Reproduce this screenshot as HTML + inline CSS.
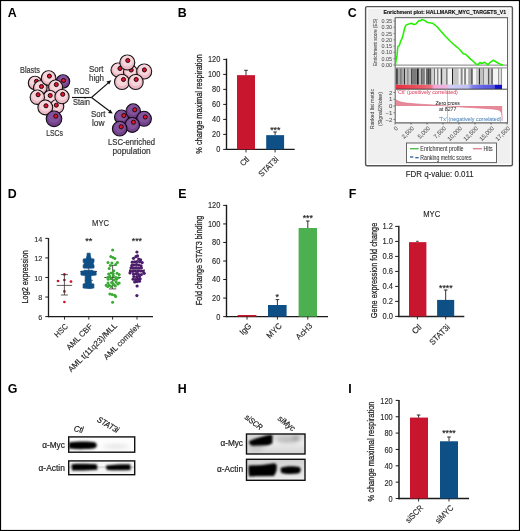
<!DOCTYPE html>
<html><head><meta charset="utf-8"><title>Figure</title>
<style>html,body{margin:0;padding:0;background:#fff;}body{width:520px;height:531px;overflow:hidden;}svg{display:block;will-change:transform;}</style>
</head><body>
<svg width="520" height="531" viewBox="0 0 520 531" font-family='"Liberation Sans", sans-serif'>
<defs>
<filter id="b1" x="-50%" y="-50%" width="200%" height="200%"><feGaussianBlur stdDeviation="0.9"/></filter>
<filter id="b2" x="-50%" y="-50%" width="200%" height="200%"><feGaussianBlur stdDeviation="2"/></filter>
<filter id="bh" x="-5%" y="-5%" width="110%" height="110%"><feGaussianBlur stdDeviation="0.45 0"/></filter>
<filter id="b05" x="-50%" y="-50%" width="200%" height="200%"><feGaussianBlur stdDeviation="0.45"/></filter>
<linearGradient id="gsea" x1="0" x2="1" y1="0" y2="0">
<stop offset="0" stop-color="#e83040"/>
<stop offset="0.25" stop-color="#ec5a66"/>
<stop offset="0.33" stop-color="#ee7080"/>
<stop offset="0.36" stop-color="#f2a8d8"/>
<stop offset="0.49" stop-color="#f0b8e4"/>
<stop offset="0.5" stop-color="#d0d0f8"/>
<stop offset="0.68" stop-color="#c0c0f4"/>
<stop offset="0.72" stop-color="#8080ec"/>
<stop offset="0.83" stop-color="#6060e4"/>
<stop offset="0.93" stop-color="#5050e0"/>
<stop offset="0.935" stop-color="#1010c8"/>
<stop offset="1" stop-color="#1010c8"/>
</linearGradient>
<linearGradient id="hbg" x1="0" x2="0" y1="0" y2="1"><stop offset="0" stop-color="#d8d8d8"/><stop offset="0.45" stop-color="#ececec"/><stop offset="1" stop-color="#d4d4d4"/></linearGradient>
<linearGradient id="hbg2" x1="0" x2="0" y1="0" y2="1"><stop offset="0" stop-color="#d0d0d0"/><stop offset="0.5" stop-color="#e0e0e0"/><stop offset="1" stop-color="#ececec"/></linearGradient>
</defs>
<rect x="0.00" y="0.00" width="520.00" height="531.00" fill="#ffffff" />
<text x="7.80" y="17.00" font-size="12.4" font-weight="bold" fill="#000">A</text>
<text x="177.80" y="17.00" font-size="12.4" font-weight="bold" fill="#000">B</text>
<text x="347.80" y="16.80" font-size="12.4" font-weight="bold" fill="#000">C</text>
<text x="7.80" y="197.60" font-size="12.4" font-weight="bold" fill="#000">D</text>
<text x="178.20" y="197.60" font-size="12.4" font-weight="bold" fill="#000">E</text>
<text x="348.80" y="197.60" font-size="12.4" font-weight="bold" fill="#000">F</text>
<text x="7.80" y="393.00" font-size="12.4" font-weight="bold" fill="#000">G</text>
<text x="177.80" y="393.00" font-size="12.4" font-weight="bold" fill="#000">H</text>
<text x="348.20" y="392.60" font-size="12.4" font-weight="bold" fill="#000">I</text>
<circle cx="48.00" cy="90.00" r="5.00" fill="#ecbac4"/>
<circle cx="35.00" cy="83.00" r="6.70" fill="#ecbac4" stroke="#161214" stroke-width="1.1"/>
<circle cx="35.00" cy="81.66" r="4.96" fill="#f6d6dc"/>
<circle cx="36.50" cy="81.30" r="2.05" fill="#e2122f" stroke="#1e0608" stroke-width="0.95"/>
<circle cx="63.00" cy="81.50" r="6.70" fill="#72418a" stroke="#140a18" stroke-width="1.1"/>
<circle cx="63.00" cy="80.16" r="4.96" fill="#82539a"/>
<circle cx="63.50" cy="80.50" r="2.05" fill="#e2122f" stroke="#1e0608" stroke-width="0.95"/>
<circle cx="40.30" cy="87.70" r="6.80" fill="#ecbac4" stroke="#161214" stroke-width="1.1"/>
<circle cx="40.30" cy="86.34" r="5.03" fill="#f6d6dc"/>
<circle cx="41.50" cy="86.50" r="2.05" fill="#e2122f" stroke="#1e0608" stroke-width="0.95"/>
<circle cx="48.60" cy="78.10" r="7.30" fill="#ecbac4" stroke="#161214" stroke-width="1.1"/>
<circle cx="48.60" cy="76.64" r="5.40" fill="#f6d6dc"/>
<circle cx="49.40" cy="76.10" r="2.05" fill="#e2122f" stroke="#1e0608" stroke-width="0.95"/>
<circle cx="55.60" cy="87.00" r="7.00" fill="#ecbac4" stroke="#161214" stroke-width="1.1"/>
<circle cx="55.60" cy="85.60" r="5.18" fill="#f6d6dc"/>
<circle cx="56.30" cy="84.60" r="2.05" fill="#e2122f" stroke="#1e0608" stroke-width="0.95"/>
<circle cx="50.00" cy="97.50" r="7.00" fill="#ecbac4" stroke="#161214" stroke-width="1.1"/>
<circle cx="50.00" cy="96.10" r="5.18" fill="#f6d6dc"/>
<circle cx="50.20" cy="95.50" r="2.05" fill="#e2122f" stroke="#1e0608" stroke-width="0.95"/>
<circle cx="57.00" cy="106.50" r="6.80" fill="#ecbac4" stroke="#161214" stroke-width="1.1"/>
<circle cx="57.00" cy="105.14" r="5.03" fill="#f6d6dc"/>
<circle cx="56.30" cy="105.20" r="2.05" fill="#e2122f" stroke="#1e0608" stroke-width="0.95"/>
<circle cx="37.30" cy="97.20" r="7.20" fill="#ecbac4" stroke="#161214" stroke-width="1.1"/>
<circle cx="37.30" cy="95.76" r="5.33" fill="#f6d6dc"/>
<circle cx="38.10" cy="94.70" r="2.05" fill="#e2122f" stroke="#1e0608" stroke-width="0.95"/>
<circle cx="62.00" cy="96.60" r="7.10" fill="#ecbac4" stroke="#161214" stroke-width="1.1"/>
<circle cx="62.00" cy="95.18" r="5.25" fill="#f6d6dc"/>
<circle cx="62.70" cy="94.30" r="2.05" fill="#e2122f" stroke="#1e0608" stroke-width="0.95"/>
<circle cx="45.30" cy="107.50" r="7.40" fill="#ecbac4" stroke="#161214" stroke-width="1.1"/>
<circle cx="45.30" cy="106.02" r="5.48" fill="#f6d6dc"/>
<circle cx="46.00" cy="105.80" r="2.05" fill="#e2122f" stroke="#1e0608" stroke-width="0.95"/>
<circle cx="54.00" cy="118.80" r="7.80" fill="#72418a" stroke="#140a18" stroke-width="1.1"/>
<circle cx="54.00" cy="117.24" r="5.77" fill="#82539a"/>
<circle cx="55.80" cy="116.20" r="2.05" fill="#e2122f" stroke="#1e0608" stroke-width="0.95"/>
<circle cx="118.00" cy="70.00" r="7.00" fill="#ecbac4" stroke="#161214" stroke-width="1.1"/>
<circle cx="118.00" cy="68.60" r="5.18" fill="#f6d6dc"/>
<circle cx="120.00" cy="68.50" r="2.05" fill="#e2122f" stroke="#1e0608" stroke-width="0.95"/>
<circle cx="130.50" cy="72.00" r="7.00" fill="#ecbac4" stroke="#161214" stroke-width="1.1"/>
<circle cx="130.50" cy="70.60" r="5.18" fill="#f6d6dc"/>
<circle cx="131.20" cy="70.00" r="2.05" fill="#e2122f" stroke="#1e0608" stroke-width="0.95"/>
<circle cx="127.30" cy="62.50" r="7.50" fill="#ecbac4" stroke="#161214" stroke-width="1.1"/>
<circle cx="127.30" cy="61.00" r="5.55" fill="#f6d6dc"/>
<circle cx="127.80" cy="60.50" r="2.05" fill="#e2122f" stroke="#1e0608" stroke-width="0.95"/>
<circle cx="144.20" cy="71.50" r="7.50" fill="#ecbac4" stroke="#161214" stroke-width="1.1"/>
<circle cx="144.20" cy="70.00" r="5.55" fill="#f6d6dc"/>
<circle cx="144.40" cy="69.90" r="2.05" fill="#e2122f" stroke="#1e0608" stroke-width="0.95"/>
<circle cx="122.00" cy="82.00" r="7.50" fill="#ecbac4" stroke="#161214" stroke-width="1.1"/>
<circle cx="122.00" cy="80.50" r="5.55" fill="#f6d6dc"/>
<circle cx="123.50" cy="79.50" r="2.05" fill="#e2122f" stroke="#1e0608" stroke-width="0.95"/>
<circle cx="135.70" cy="82.00" r="7.50" fill="#ecbac4" stroke="#161214" stroke-width="1.1"/>
<circle cx="135.70" cy="80.50" r="5.55" fill="#f6d6dc"/>
<circle cx="136.20" cy="79.50" r="2.05" fill="#e2122f" stroke="#1e0608" stroke-width="0.95"/>
<circle cx="121.50" cy="117.00" r="7.00" fill="#72418a" stroke="#140a18" stroke-width="1.1"/>
<circle cx="121.50" cy="115.60" r="5.18" fill="#82539a"/>
<circle cx="123.80" cy="115.50" r="2.05" fill="#e2122f" stroke="#1e0608" stroke-width="0.95"/>
<circle cx="133.20" cy="111.20" r="7.30" fill="#72418a" stroke="#140a18" stroke-width="1.1"/>
<circle cx="133.20" cy="109.74" r="5.40" fill="#82539a"/>
<circle cx="134.80" cy="109.80" r="2.05" fill="#e2122f" stroke="#1e0608" stroke-width="0.95"/>
<circle cx="144.00" cy="118.80" r="7.40" fill="#72418a" stroke="#140a18" stroke-width="1.1"/>
<circle cx="144.00" cy="117.32" r="5.48" fill="#82539a"/>
<circle cx="145.30" cy="117.00" r="2.05" fill="#e2122f" stroke="#1e0608" stroke-width="0.95"/>
<circle cx="132.20" cy="125.00" r="7.40" fill="#72418a" stroke="#140a18" stroke-width="1.1"/>
<circle cx="132.20" cy="123.52" r="5.48" fill="#82539a"/>
<circle cx="133.50" cy="122.20" r="2.05" fill="#e2122f" stroke="#1e0608" stroke-width="0.95"/>
<circle cx="119.70" cy="128.70" r="7.30" fill="#72418a" stroke="#140a18" stroke-width="1.1"/>
<circle cx="119.70" cy="127.24" r="5.40" fill="#82539a"/>
<circle cx="121.20" cy="126.80" r="2.05" fill="#e2122f" stroke="#1e0608" stroke-width="0.95"/>
<text x="20.00" y="72.80" font-size="8.8" stroke="#383838" stroke-width="0.22" fill="#383838" textLength="20" lengthAdjust="spacingAndGlyphs">Blasts</text>
<text x="46.20" y="135.80" font-size="8.8" stroke="#383838" stroke-width="0.22" fill="#383838" textLength="16.8" lengthAdjust="spacingAndGlyphs">LSCs</text>
<text x="74.00" y="94.30" font-size="8.8" stroke="#383838" stroke-width="0.22" fill="#383838" textLength="15.5" lengthAdjust="spacingAndGlyphs">ROS</text>
<text x="73.00" y="105.40" font-size="8.8" stroke="#383838" stroke-width="0.22" fill="#383838" textLength="17" lengthAdjust="spacingAndGlyphs">Stain</text>
<text x="89.00" y="71.70" font-size="8.8" stroke="#383838" stroke-width="0.22" fill="#383838" textLength="14.5" lengthAdjust="spacingAndGlyphs">Sort</text>
<text x="89.00" y="81.00" font-size="8.8" stroke="#383838" stroke-width="0.22" fill="#383838" textLength="15" lengthAdjust="spacingAndGlyphs">high</text>
<text x="91.00" y="116.60" font-size="8.8" stroke="#383838" stroke-width="0.22" fill="#383838" textLength="14.5" lengthAdjust="spacingAndGlyphs">Sort</text>
<text x="92.00" y="125.60" font-size="8.8" stroke="#383838" stroke-width="0.22" fill="#383838" textLength="12.5" lengthAdjust="spacingAndGlyphs">low</text>
<text x="108.00" y="145.30" font-size="8.8" stroke="#383838" stroke-width="0.22" fill="#383838" textLength="47" lengthAdjust="spacingAndGlyphs">LSC-enriched</text>
<text x="112.50" y="154.10" font-size="8.8" stroke="#383838" stroke-width="0.22" fill="#383838" textLength="38.1" lengthAdjust="spacingAndGlyphs">population</text>
<line x1="72.00" y1="97.50" x2="91.50" y2="97.50" stroke="#111" stroke-width="1.15" />
<line x1="91.50" y1="97.50" x2="108.60" y2="82.60" stroke="#111" stroke-width="1.15" />
<line x1="91.50" y1="97.50" x2="109.80" y2="111.30" stroke="#111" stroke-width="1.15" />
<polygon points="111.3,80.3 106.4,81.4 109.2,84.5" fill="#111"/>
<polygon points="112.7,113.6 108.1,113.0 110.4,109.6" fill="#111"/>
<line x1="226.50" y1="58.60" x2="226.50" y2="150.00" stroke="#1a1a1a" stroke-width="1.4" />
<line x1="225.90" y1="149.40" x2="294.70" y2="149.40" stroke="#1a1a1a" stroke-width="1.3" />
<line x1="223.20" y1="149.40" x2="226.40" y2="149.40" stroke="#1a1a1a" stroke-width="1.0" />
<text x="220.30" y="152.00" font-size="8.3" stroke="#262626" stroke-width="0.12" text-anchor="end" fill="#262626" textLength="4.11" lengthAdjust="spacingAndGlyphs">0</text>
<line x1="223.20" y1="134.40" x2="226.40" y2="134.40" stroke="#1a1a1a" stroke-width="1.0" />
<text x="220.30" y="137.00" font-size="8.3" stroke="#262626" stroke-width="0.12" text-anchor="end" fill="#262626" textLength="8.22" lengthAdjust="spacingAndGlyphs">20</text>
<line x1="223.20" y1="119.40" x2="226.40" y2="119.40" stroke="#1a1a1a" stroke-width="1.0" />
<text x="220.30" y="122.00" font-size="8.3" stroke="#262626" stroke-width="0.12" text-anchor="end" fill="#262626" textLength="8.22" lengthAdjust="spacingAndGlyphs">40</text>
<line x1="223.20" y1="104.40" x2="226.40" y2="104.40" stroke="#1a1a1a" stroke-width="1.0" />
<text x="220.30" y="107.00" font-size="8.3" stroke="#262626" stroke-width="0.12" text-anchor="end" fill="#262626" textLength="8.22" lengthAdjust="spacingAndGlyphs">60</text>
<line x1="223.20" y1="89.40" x2="226.40" y2="89.40" stroke="#1a1a1a" stroke-width="1.0" />
<text x="220.30" y="92.00" font-size="8.3" stroke="#262626" stroke-width="0.12" text-anchor="end" fill="#262626" textLength="8.22" lengthAdjust="spacingAndGlyphs">80</text>
<line x1="223.20" y1="74.40" x2="226.40" y2="74.40" stroke="#1a1a1a" stroke-width="1.0" />
<text x="220.30" y="77.00" font-size="8.3" stroke="#262626" stroke-width="0.12" text-anchor="end" fill="#262626" textLength="12.33" lengthAdjust="spacingAndGlyphs">100</text>
<line x1="223.20" y1="59.40" x2="226.40" y2="59.40" stroke="#1a1a1a" stroke-width="1.0" />
<text x="220.30" y="62.00" font-size="8.3" stroke="#262626" stroke-width="0.12" text-anchor="end" fill="#262626" textLength="12.33" lengthAdjust="spacingAndGlyphs">120</text>
<rect x="237.00" y="75.15" width="18.00" height="74.25" fill="#c8162f" />
<rect x="266.20" y="135.15" width="17.90" height="14.25" fill="#0e4f86" />
<line x1="246.00" y1="70.30" x2="246.00" y2="75.20" stroke="#1a1a1a" stroke-width="0.9" />
<line x1="244.20" y1="70.30" x2="247.80" y2="70.30" stroke="#1a1a1a" stroke-width="0.9" />
<line x1="275.10" y1="132.00" x2="275.10" y2="135.00" stroke="#1a1a1a" stroke-width="0.9" />
<line x1="273.30" y1="132.00" x2="276.90" y2="132.00" stroke="#1a1a1a" stroke-width="0.9" />
<text x="275.30" y="132.86" font-size="8.7" stroke="#1a1a1a" stroke-width="0.15" text-anchor="middle" fill="#1a1a1a">***</text>
<line x1="246.00" y1="149.40" x2="246.00" y2="152.40" stroke="#1a1a1a" stroke-width="0.9" />
<line x1="275.10" y1="149.40" x2="275.10" y2="152.40" stroke="#1a1a1a" stroke-width="0.9" />
<text x="248.00" y="158.20" font-size="8.2" stroke="#262626" stroke-width="0.14" text-anchor="end" fill="#262626" transform="rotate(-45 248.00 158.20)" textLength="9.32" lengthAdjust="spacingAndGlyphs" dominant-baseline="central">Ctl</text>
<text x="277.20" y="158.40" font-size="8.2" stroke="#262626" stroke-width="0.14" text-anchor="end" fill="#262626" transform="rotate(-45 277.20 158.40)" textLength="24.29" lengthAdjust="spacingAndGlyphs" dominant-baseline="central">STAT3i</text>
<text x="201.90" y="104.00" font-size="9.6" stroke="#262626" stroke-width="0.28" text-anchor="middle" fill="#262626" transform="rotate(-90 201.90 104.00)" textLength="99.5" lengthAdjust="spacingAndGlyphs">% change maximal respiration</text>
<line x1="226.50" y1="204.80" x2="226.50" y2="317.20" stroke="#1a1a1a" stroke-width="1.4" />
<line x1="225.90" y1="316.60" x2="328.00" y2="316.60" stroke="#1a1a1a" stroke-width="1.3" />
<line x1="223.20" y1="316.60" x2="226.40" y2="316.60" stroke="#1a1a1a" stroke-width="1.0" />
<text x="220.30" y="319.55" font-size="8.3" stroke="#262626" stroke-width="0.12" text-anchor="end" fill="#262626" textLength="4.11" lengthAdjust="spacingAndGlyphs">0</text>
<line x1="223.20" y1="298.07" x2="226.40" y2="298.07" stroke="#1a1a1a" stroke-width="1.0" />
<text x="220.30" y="301.02" font-size="8.3" stroke="#262626" stroke-width="0.12" text-anchor="end" fill="#262626" textLength="8.22" lengthAdjust="spacingAndGlyphs">20</text>
<line x1="223.20" y1="279.53" x2="226.40" y2="279.53" stroke="#1a1a1a" stroke-width="1.0" />
<text x="220.30" y="282.48" font-size="8.3" stroke="#262626" stroke-width="0.12" text-anchor="end" fill="#262626" textLength="8.22" lengthAdjust="spacingAndGlyphs">40</text>
<line x1="223.20" y1="261.00" x2="226.40" y2="261.00" stroke="#1a1a1a" stroke-width="1.0" />
<text x="220.30" y="263.95" font-size="8.3" stroke="#262626" stroke-width="0.12" text-anchor="end" fill="#262626" textLength="8.22" lengthAdjust="spacingAndGlyphs">60</text>
<line x1="223.20" y1="242.46" x2="226.40" y2="242.46" stroke="#1a1a1a" stroke-width="1.0" />
<text x="220.30" y="245.41" font-size="8.3" stroke="#262626" stroke-width="0.12" text-anchor="end" fill="#262626" textLength="8.22" lengthAdjust="spacingAndGlyphs">80</text>
<line x1="223.20" y1="223.93" x2="226.40" y2="223.93" stroke="#1a1a1a" stroke-width="1.0" />
<text x="220.30" y="226.88" font-size="8.3" stroke="#262626" stroke-width="0.12" text-anchor="end" fill="#262626" textLength="12.33" lengthAdjust="spacingAndGlyphs">100</text>
<line x1="223.20" y1="205.40" x2="226.40" y2="205.40" stroke="#1a1a1a" stroke-width="1.0" />
<text x="220.30" y="208.35" font-size="8.3" stroke="#262626" stroke-width="0.12" text-anchor="end" fill="#262626" textLength="12.33" lengthAdjust="spacingAndGlyphs">120</text>
<rect x="237.60" y="315.00" width="18.80" height="1.60" fill="#c8162f" />
<rect x="268.00" y="305.00" width="18.60" height="11.60" fill="#0e4f86" />
<rect x="298.60" y="228.00" width="18.40" height="88.60" fill="#4cb050" />
<line x1="277.40" y1="299.60" x2="277.40" y2="305.00" stroke="#1a1a1a" stroke-width="0.9" />
<line x1="275.60" y1="299.60" x2="279.20" y2="299.60" stroke="#1a1a1a" stroke-width="0.9" />
<line x1="307.80" y1="221.00" x2="307.80" y2="228.00" stroke="#1a1a1a" stroke-width="0.9" />
<line x1="306.00" y1="221.00" x2="309.60" y2="221.00" stroke="#1a1a1a" stroke-width="0.9" />
<text x="277.30" y="299.66" font-size="8.7" stroke="#1a1a1a" stroke-width="0.15" text-anchor="middle" fill="#1a1a1a">*</text>
<text x="307.80" y="221.36" font-size="8.7" stroke="#1a1a1a" stroke-width="0.15" text-anchor="middle" fill="#1a1a1a">***</text>
<line x1="247.00" y1="316.60" x2="247.00" y2="319.60" stroke="#1a1a1a" stroke-width="0.9" />
<line x1="277.40" y1="316.60" x2="277.40" y2="319.60" stroke="#1a1a1a" stroke-width="0.9" />
<line x1="307.80" y1="316.60" x2="307.80" y2="319.60" stroke="#1a1a1a" stroke-width="0.9" />
<text x="249.90" y="324.40" font-size="8.4" stroke="#262626" stroke-width="0.14" text-anchor="end" fill="#262626" transform="rotate(-45 249.90 324.40)" textLength="12.86" lengthAdjust="spacingAndGlyphs" dominant-baseline="central">IgG</text>
<text x="280.30" y="324.40" font-size="8.4" stroke="#262626" stroke-width="0.14" text-anchor="end" fill="#262626" transform="rotate(-45 280.30 324.40)" textLength="17.73" lengthAdjust="spacingAndGlyphs" dominant-baseline="central">MYC</text>
<text x="310.80" y="324.30" font-size="8.4" stroke="#262626" stroke-width="0.14" text-anchor="end" fill="#262626" transform="rotate(-45 310.80 324.30)" textLength="19.51" lengthAdjust="spacingAndGlyphs" dominant-baseline="central">AcH3</text>
<text x="201.90" y="260.40" font-size="9.6" stroke="#262626" stroke-width="0.28" text-anchor="middle" fill="#262626" transform="rotate(-90 201.90 260.40)" textLength="89.6" lengthAdjust="spacingAndGlyphs">Fold change STAT3 binding</text>
<line x1="398.80" y1="225.80" x2="398.80" y2="317.10" stroke="#333" stroke-width="1.6" />
<line x1="397.90" y1="316.40" x2="464.30" y2="316.40" stroke="#222" stroke-width="1.5" />
<line x1="395.20" y1="316.40" x2="398.40" y2="316.40" stroke="#1a1a1a" stroke-width="1.0" />
<text x="393.00" y="319.10" font-size="8.4" stroke="#262626" stroke-width="0.12" text-anchor="end" fill="#262626" textLength="10.51" lengthAdjust="spacingAndGlyphs">0.0</text>
<line x1="395.20" y1="301.40" x2="398.40" y2="301.40" stroke="#1a1a1a" stroke-width="1.0" />
<text x="393.00" y="304.10" font-size="8.4" stroke="#262626" stroke-width="0.12" text-anchor="end" fill="#262626" textLength="10.51" lengthAdjust="spacingAndGlyphs">0.2</text>
<line x1="395.20" y1="286.40" x2="398.40" y2="286.40" stroke="#1a1a1a" stroke-width="1.0" />
<text x="393.00" y="289.10" font-size="8.4" stroke="#262626" stroke-width="0.12" text-anchor="end" fill="#262626" textLength="10.51" lengthAdjust="spacingAndGlyphs">0.4</text>
<line x1="395.20" y1="271.40" x2="398.40" y2="271.40" stroke="#1a1a1a" stroke-width="1.0" />
<text x="393.00" y="274.10" font-size="8.4" stroke="#262626" stroke-width="0.12" text-anchor="end" fill="#262626" textLength="10.51" lengthAdjust="spacingAndGlyphs">0.6</text>
<line x1="395.20" y1="256.40" x2="398.40" y2="256.40" stroke="#1a1a1a" stroke-width="1.0" />
<text x="393.00" y="259.10" font-size="8.4" stroke="#262626" stroke-width="0.12" text-anchor="end" fill="#262626" textLength="10.51" lengthAdjust="spacingAndGlyphs">0.8</text>
<line x1="395.20" y1="241.40" x2="398.40" y2="241.40" stroke="#1a1a1a" stroke-width="1.0" />
<text x="393.00" y="244.10" font-size="8.4" stroke="#262626" stroke-width="0.12" text-anchor="end" fill="#262626" textLength="10.51" lengthAdjust="spacingAndGlyphs">1.0</text>
<line x1="395.20" y1="226.40" x2="398.40" y2="226.40" stroke="#1a1a1a" stroke-width="1.0" />
<text x="393.00" y="229.10" font-size="8.4" stroke="#262626" stroke-width="0.12" text-anchor="end" fill="#262626" textLength="10.51" lengthAdjust="spacingAndGlyphs">1.2</text>
<rect x="409.00" y="242.15" width="17.40" height="74.25" fill="#c8162f" />
<rect x="437.10" y="299.90" width="17.10" height="16.50" fill="#0e4f86" />
<line x1="416.20" y1="241.30" x2="418.60" y2="241.30" stroke="#1a1a1a" stroke-width="0.9" />
<line x1="445.70" y1="290.00" x2="445.70" y2="300.00" stroke="#1a1a1a" stroke-width="0.9" />
<line x1="443.90" y1="290.00" x2="447.50" y2="290.00" stroke="#1a1a1a" stroke-width="0.9" />
<text x="445.80" y="290.66" font-size="8.7" stroke="#1a1a1a" stroke-width="0.15" text-anchor="middle" fill="#1a1a1a">****</text>
<line x1="417.40" y1="316.40" x2="417.40" y2="319.40" stroke="#1a1a1a" stroke-width="0.9" />
<line x1="445.70" y1="316.40" x2="445.70" y2="319.40" stroke="#1a1a1a" stroke-width="0.9" />
<text x="420.00" y="325.60" font-size="8.4" stroke="#262626" stroke-width="0.14" text-anchor="end" fill="#262626" transform="rotate(-45 420.00 325.60)" textLength="9.75" lengthAdjust="spacingAndGlyphs" dominant-baseline="central">Ctl</text>
<text x="448.30" y="325.60" font-size="8.4" stroke="#262626" stroke-width="0.14" text-anchor="end" fill="#262626" transform="rotate(-45 448.30 325.60)" textLength="25.15" lengthAdjust="spacingAndGlyphs" dominant-baseline="central">STAT3i</text>
<text x="377.00" y="270.50" font-size="9.6" stroke="#262626" stroke-width="0.28" text-anchor="middle" fill="#262626" transform="rotate(-90 377.00 270.50)" textLength="95.5" lengthAdjust="spacingAndGlyphs">Gene expression fold change</text>
<text x="423.20" y="217.40" font-size="8.8" stroke="#222" stroke-width="0.1" fill="#222" textLength="17" lengthAdjust="spacingAndGlyphs">MYC</text>
<line x1="399.00" y1="400.00" x2="399.00" y2="499.20" stroke="#333" stroke-width="1.7" />
<line x1="398.40" y1="498.50" x2="469.00" y2="498.50" stroke="#1a1a1a" stroke-width="1.3" />
<line x1="395.70" y1="498.50" x2="398.90" y2="498.50" stroke="#1a1a1a" stroke-width="1.0" />
<text x="392.70" y="501.85" font-size="8.3" stroke="#262626" stroke-width="0.12" text-anchor="end" fill="#262626" textLength="4.11" lengthAdjust="spacingAndGlyphs">0</text>
<line x1="395.70" y1="482.15" x2="398.90" y2="482.15" stroke="#1a1a1a" stroke-width="1.0" />
<text x="392.70" y="485.50" font-size="8.3" stroke="#262626" stroke-width="0.12" text-anchor="end" fill="#262626" textLength="8.22" lengthAdjust="spacingAndGlyphs">20</text>
<line x1="395.70" y1="465.80" x2="398.90" y2="465.80" stroke="#1a1a1a" stroke-width="1.0" />
<text x="392.70" y="469.15" font-size="8.3" stroke="#262626" stroke-width="0.12" text-anchor="end" fill="#262626" textLength="8.22" lengthAdjust="spacingAndGlyphs">40</text>
<line x1="395.70" y1="449.45" x2="398.90" y2="449.45" stroke="#1a1a1a" stroke-width="1.0" />
<text x="392.70" y="452.80" font-size="8.3" stroke="#262626" stroke-width="0.12" text-anchor="end" fill="#262626" textLength="8.22" lengthAdjust="spacingAndGlyphs">60</text>
<line x1="395.70" y1="433.10" x2="398.90" y2="433.10" stroke="#1a1a1a" stroke-width="1.0" />
<text x="392.70" y="436.45" font-size="8.3" stroke="#262626" stroke-width="0.12" text-anchor="end" fill="#262626" textLength="8.22" lengthAdjust="spacingAndGlyphs">80</text>
<line x1="395.70" y1="416.75" x2="398.90" y2="416.75" stroke="#1a1a1a" stroke-width="1.0" />
<text x="392.70" y="420.10" font-size="8.3" stroke="#262626" stroke-width="0.12" text-anchor="end" fill="#262626" textLength="12.33" lengthAdjust="spacingAndGlyphs">100</text>
<line x1="395.70" y1="400.40" x2="398.90" y2="400.40" stroke="#1a1a1a" stroke-width="1.0" />
<text x="392.70" y="403.75" font-size="8.3" stroke="#262626" stroke-width="0.12" text-anchor="end" fill="#262626" textLength="12.33" lengthAdjust="spacingAndGlyphs">120</text>
<rect x="410.00" y="417.57" width="18.00" height="80.93" fill="#c8162f" />
<rect x="440.00" y="441.27" width="18.00" height="57.23" fill="#0e4f86" />
<line x1="418.60" y1="415.00" x2="418.60" y2="417.60" stroke="#1a1a1a" stroke-width="0.9" />
<line x1="416.80" y1="415.00" x2="420.40" y2="415.00" stroke="#1a1a1a" stroke-width="0.9" />
<line x1="449.00" y1="437.00" x2="449.00" y2="441.30" stroke="#1a1a1a" stroke-width="0.9" />
<line x1="447.20" y1="437.00" x2="450.80" y2="437.00" stroke="#1a1a1a" stroke-width="0.9" />
<text x="448.90" y="435.66" font-size="8.7" stroke="#1a1a1a" stroke-width="0.15" text-anchor="middle" fill="#1a1a1a">****</text>
<line x1="418.60" y1="498.50" x2="418.60" y2="501.50" stroke="#1a1a1a" stroke-width="0.9" />
<line x1="449.00" y1="498.50" x2="449.00" y2="501.50" stroke="#1a1a1a" stroke-width="0.9" />
<text x="421.60" y="506.40" font-size="8.3" stroke="#262626" stroke-width="0.14" text-anchor="end" fill="#262626" transform="rotate(-45 421.60 506.40)" textLength="21.17" lengthAdjust="spacingAndGlyphs" dominant-baseline="central">siSCR</text>
<text x="451.90" y="506.40" font-size="8.3" stroke="#262626" stroke-width="0.14" text-anchor="end" fill="#262626" transform="rotate(-45 451.90 506.40)" textLength="22.0" lengthAdjust="spacingAndGlyphs" dominant-baseline="central">siMYC</text>
<text x="373.70" y="451.50" font-size="9.6" stroke="#262626" stroke-width="0.28" text-anchor="middle" fill="#262626" transform="rotate(-90 373.70 451.50)" textLength="100" lengthAdjust="spacingAndGlyphs">% change maximal respiration</text>
<line x1="48.50" y1="238.00" x2="48.50" y2="317.20" stroke="#1a1a1a" stroke-width="1.3" />
<line x1="48.00" y1="316.60" x2="153.00" y2="316.60" stroke="#1a1a1a" stroke-width="1.3" />
<line x1="45.30" y1="316.60" x2="48.50" y2="316.60" stroke="#1a1a1a" stroke-width="1.0" />
<text x="42.30" y="319.80" font-size="8.1" stroke="#262626" stroke-width="0.1" text-anchor="end" fill="#262626" textLength="4.05" lengthAdjust="spacingAndGlyphs">6</text>
<line x1="45.30" y1="297.04" x2="48.50" y2="297.04" stroke="#1a1a1a" stroke-width="1.0" />
<text x="42.30" y="300.24" font-size="8.1" stroke="#262626" stroke-width="0.1" text-anchor="end" fill="#262626" textLength="4.05" lengthAdjust="spacingAndGlyphs">8</text>
<line x1="45.30" y1="277.48" x2="48.50" y2="277.48" stroke="#1a1a1a" stroke-width="1.0" />
<text x="42.30" y="280.68" font-size="8.1" stroke="#262626" stroke-width="0.1" text-anchor="end" fill="#262626" textLength="8.11" lengthAdjust="spacingAndGlyphs">10</text>
<line x1="45.30" y1="257.92" x2="48.50" y2="257.92" stroke="#1a1a1a" stroke-width="1.0" />
<text x="42.30" y="261.12" font-size="8.1" stroke="#262626" stroke-width="0.1" text-anchor="end" fill="#262626" textLength="8.11" lengthAdjust="spacingAndGlyphs">12</text>
<line x1="45.30" y1="238.36" x2="48.50" y2="238.36" stroke="#1a1a1a" stroke-width="1.0" />
<text x="42.30" y="241.56" font-size="8.1" stroke="#262626" stroke-width="0.1" text-anchor="end" fill="#262626" textLength="8.11" lengthAdjust="spacingAndGlyphs">14</text>
<text x="28.00" y="276.80" font-size="9.4" stroke="#262626" stroke-width="0.28" text-anchor="middle" fill="#262626" transform="rotate(-90 28.00 276.80)" textLength="53.2" lengthAdjust="spacingAndGlyphs">Log2 expression</text>
<text x="92.10" y="225.90" font-size="8.8" stroke="#222" stroke-width="0.1" fill="#222" textLength="17.0" lengthAdjust="spacingAndGlyphs">MYC</text>
<line x1="64.50" y1="316.60" x2="64.50" y2="319.60" stroke="#1a1a1a" stroke-width="0.9" />
<line x1="88.80" y1="316.60" x2="88.80" y2="319.60" stroke="#1a1a1a" stroke-width="0.9" />
<line x1="112.60" y1="316.60" x2="112.60" y2="319.60" stroke="#1a1a1a" stroke-width="0.9" />
<line x1="137.00" y1="316.60" x2="137.00" y2="319.60" stroke="#1a1a1a" stroke-width="0.9" />
<text x="66.70" y="325.30" font-size="8.0" stroke="#262626" stroke-width="0.14" text-anchor="end" fill="#262626" transform="rotate(-45 66.70 325.30)" textLength="15.54" lengthAdjust="spacingAndGlyphs" dominant-baseline="central">HSC</text>
<text x="91.30" y="325.10" font-size="8.0" stroke="#262626" stroke-width="0.14" text-anchor="end" fill="#262626" transform="rotate(-45 91.30 325.10)" textLength="33.34" lengthAdjust="spacingAndGlyphs" dominant-baseline="central">AML CBF</text>
<text x="115.80" y="324.50" font-size="8.0" stroke="#262626" stroke-width="0.14" text-anchor="end" fill="#262626" transform="rotate(-45 115.80 324.50)" textLength="65.37" lengthAdjust="spacingAndGlyphs" dominant-baseline="central">AML t(11q23)/MLL</text>
<text x="139.00" y="324.40" font-size="8.0" stroke="#262626" stroke-width="0.14" text-anchor="end" fill="#262626" transform="rotate(-45 139.00 324.40)" textLength="48.17" lengthAdjust="spacingAndGlyphs" dominant-baseline="central">AML complex</text>
<text x="88.75" y="244.42" font-size="9.2" stroke="#1a1a1a" stroke-width="0.15" text-anchor="middle" fill="#1a1a1a">**</text>
<text x="136.85" y="244.16" font-size="8.7" stroke="#1a1a1a" stroke-width="0.15" text-anchor="middle" fill="#1a1a1a">***</text>
<circle cx="64.40" cy="274.40" r="1.35" fill="#d0112b"/>
<circle cx="58.00" cy="281.00" r="1.35" fill="#d0112b"/>
<circle cx="64.40" cy="280.00" r="1.35" fill="#d0112b"/>
<circle cx="71.00" cy="281.60" r="1.35" fill="#d0112b"/>
<circle cx="64.40" cy="291.40" r="1.35" fill="#d0112b"/>
<circle cx="64.40" cy="302.00" r="1.35" fill="#d0112b"/>
<line x1="56.70" y1="285.40" x2="72.10" y2="285.40" stroke="#3a3030" stroke-width="0.8" />
<line x1="64.40" y1="274.60" x2="64.40" y2="295.00" stroke="#3a3030" stroke-width="0.8" />
<line x1="60.90" y1="274.60" x2="67.90" y2="274.60" stroke="#3a3030" stroke-width="0.8" />
<line x1="60.90" y1="295.00" x2="67.90" y2="295.00" stroke="#3a3030" stroke-width="0.8" />
<line x1="80.80" y1="271.50" x2="96.80" y2="271.50" stroke="#3a3030" stroke-width="0.8" />
<line x1="88.80" y1="262.00" x2="88.80" y2="280.30" stroke="#3a3030" stroke-width="0.8" />
<line x1="84.80" y1="262.00" x2="92.80" y2="262.00" stroke="#3a3030" stroke-width="0.8" />
<line x1="84.80" y1="280.30" x2="92.80" y2="280.30" stroke="#3a3030" stroke-width="0.8" />
<polygon points="87.10,253.20 90.20,253.20 90.20,255.00 90.70,257.00 91.20,258.80 94.00,259.00 94.00,262.30 93.20,262.50 93.20,264.60 94.00,264.80 94.00,268.00 89.40,268.20 88.00,268.20 83.20,268.00 83.20,264.80 84.20,264.60 84.20,262.40 83.20,262.30 83.20,259.00 86.10,258.80 86.70,257.00 87.10,255.00" fill="#0e4f86" stroke="#0e4f86" stroke-width="0.8" stroke-linejoin="round" />
<polygon points="84.00,270.30 92.70,270.30 93.00,271.10 96.00,271.30 96.20,275.00 91.00,275.50 91.00,278.80 91.40,283.70 93.90,284.00 93.90,287.90 90.00,288.60 83.10,288.00 83.10,284.00 85.20,283.60 85.20,275.50 81.00,275.00 80.90,271.20 84.00,271.00" fill="#0e4f86" stroke="#0e4f86" stroke-width="0.8" stroke-linejoin="round" />
<line x1="80.60" y1="271.50" x2="81.40" y2="271.50" stroke="#3a3030" stroke-width="0.8" />
<line x1="96.20" y1="271.50" x2="97.00" y2="271.50" stroke="#3a3030" stroke-width="0.8" />
<line x1="104.60" y1="277.50" x2="120.60" y2="277.50" stroke="#3a3030" stroke-width="0.8" />
<line x1="112.60" y1="265.40" x2="112.60" y2="288.90" stroke="#3a3030" stroke-width="0.8" />
<line x1="108.90" y1="265.40" x2="116.30" y2="265.40" stroke="#3a3030" stroke-width="0.8" />
<line x1="108.90" y1="288.90" x2="116.30" y2="288.90" stroke="#3a3030" stroke-width="0.8" />
<circle cx="112.60" cy="250.10" r="1.50" fill="#3aaa35"/>
<circle cx="110.80" cy="256.60" r="1.50" fill="#3aaa35"/>
<circle cx="112.90" cy="257.60" r="1.50" fill="#3aaa35"/>
<circle cx="114.90" cy="258.50" r="1.50" fill="#3aaa35"/>
<circle cx="108.00" cy="262.40" r="1.50" fill="#3aaa35"/>
<circle cx="111.90" cy="263.00" r="1.50" fill="#3aaa35"/>
<circle cx="117.40" cy="262.40" r="1.50" fill="#3aaa35"/>
<circle cx="115.60" cy="264.50" r="1.50" fill="#3aaa35"/>
<circle cx="110.40" cy="265.40" r="1.50" fill="#3aaa35"/>
<circle cx="109.20" cy="268.40" r="1.50" fill="#3aaa35"/>
<circle cx="113.70" cy="270.80" r="1.50" fill="#3aaa35"/>
<circle cx="108.60" cy="273.90" r="1.50" fill="#3aaa35"/>
<circle cx="111.00" cy="273.00" r="1.50" fill="#3aaa35"/>
<circle cx="117.10" cy="273.30" r="1.50" fill="#3aaa35"/>
<circle cx="119.20" cy="274.50" r="1.50" fill="#3aaa35"/>
<circle cx="107.70" cy="277.50" r="1.50" fill="#3aaa35"/>
<circle cx="109.80" cy="276.30" r="1.50" fill="#3aaa35"/>
<circle cx="113.40" cy="275.70" r="1.50" fill="#3aaa35"/>
<circle cx="115.90" cy="277.50" r="1.50" fill="#3aaa35"/>
<circle cx="108.30" cy="279.30" r="1.50" fill="#3aaa35"/>
<circle cx="111.00" cy="278.70" r="1.50" fill="#3aaa35"/>
<circle cx="114.00" cy="279.90" r="1.50" fill="#3aaa35"/>
<circle cx="116.50" cy="279.30" r="1.50" fill="#3aaa35"/>
<circle cx="108.00" cy="282.90" r="1.50" fill="#3aaa35"/>
<circle cx="111.60" cy="282.60" r="1.50" fill="#3aaa35"/>
<circle cx="116.20" cy="282.00" r="1.50" fill="#3aaa35"/>
<circle cx="119.20" cy="282.90" r="1.50" fill="#3aaa35"/>
<circle cx="106.20" cy="285.30" r="1.50" fill="#3aaa35"/>
<circle cx="109.20" cy="285.30" r="1.50" fill="#3aaa35"/>
<circle cx="114.00" cy="284.70" r="1.50" fill="#3aaa35"/>
<circle cx="117.70" cy="284.10" r="1.50" fill="#3aaa35"/>
<circle cx="107.70" cy="286.50" r="1.50" fill="#3aaa35"/>
<circle cx="111.00" cy="286.50" r="1.50" fill="#3aaa35"/>
<circle cx="115.30" cy="285.90" r="1.50" fill="#3aaa35"/>
<circle cx="113.20" cy="273.50" r="1.50" fill="#3aaa35"/>
<circle cx="118.50" cy="277.80" r="1.50" fill="#3aaa35"/>
<circle cx="112.80" cy="283.50" r="1.50" fill="#3aaa35"/>
<circle cx="109.80" cy="294.00" r="1.50" fill="#3aaa35"/>
<circle cx="112.20" cy="294.60" r="1.50" fill="#3aaa35"/>
<circle cx="114.70" cy="295.20" r="1.50" fill="#3aaa35"/>
<circle cx="115.70" cy="296.40" r="1.50" fill="#3aaa35"/>
<circle cx="112.60" cy="302.30" r="1.50" fill="#3aaa35"/>
<line x1="129.10" y1="270.20" x2="144.90" y2="270.20" stroke="#3a3030" stroke-width="0.8" />
<line x1="137.00" y1="261.50" x2="137.00" y2="279.20" stroke="#3a3030" stroke-width="0.8" />
<line x1="133.20" y1="261.50" x2="140.80" y2="261.50" stroke="#3a3030" stroke-width="0.8" />
<line x1="133.20" y1="279.20" x2="140.80" y2="279.20" stroke="#3a3030" stroke-width="0.8" />
<circle cx="136.90" cy="252.00" r="1.60" fill="#4b1c6b"/>
<circle cx="137.50" cy="255.90" r="1.60" fill="#4b1c6b"/>
<circle cx="135.90" cy="256.70" r="1.60" fill="#4b1c6b"/>
<circle cx="133.50" cy="258.30" r="1.60" fill="#4b1c6b"/>
<circle cx="138.70" cy="259.10" r="1.60" fill="#4b1c6b"/>
<circle cx="140.60" cy="259.90" r="1.60" fill="#4b1c6b"/>
<circle cx="132.30" cy="262.20" r="1.60" fill="#4b1c6b"/>
<circle cx="134.70" cy="261.80" r="1.60" fill="#4b1c6b"/>
<circle cx="137.10" cy="261.50" r="1.60" fill="#4b1c6b"/>
<circle cx="139.80" cy="261.80" r="1.60" fill="#4b1c6b"/>
<circle cx="142.20" cy="262.60" r="1.60" fill="#4b1c6b"/>
<circle cx="131.90" cy="265.40" r="1.60" fill="#4b1c6b"/>
<circle cx="133.90" cy="265.00" r="1.60" fill="#4b1c6b"/>
<circle cx="136.30" cy="264.60" r="1.60" fill="#4b1c6b"/>
<circle cx="138.70" cy="265.00" r="1.60" fill="#4b1c6b"/>
<circle cx="141.00" cy="265.80" r="1.60" fill="#4b1c6b"/>
<circle cx="131.10" cy="267.80" r="1.60" fill="#4b1c6b"/>
<circle cx="133.50" cy="268.20" r="1.60" fill="#4b1c6b"/>
<circle cx="135.90" cy="267.80" r="1.60" fill="#4b1c6b"/>
<circle cx="138.70" cy="268.20" r="1.60" fill="#4b1c6b"/>
<circle cx="141.40" cy="267.80" r="1.60" fill="#4b1c6b"/>
<circle cx="130.40" cy="271.00" r="1.60" fill="#4b1c6b"/>
<circle cx="132.70" cy="271.30" r="1.60" fill="#4b1c6b"/>
<circle cx="135.10" cy="271.00" r="1.60" fill="#4b1c6b"/>
<circle cx="137.90" cy="271.30" r="1.60" fill="#4b1c6b"/>
<circle cx="140.60" cy="271.00" r="1.60" fill="#4b1c6b"/>
<circle cx="143.00" cy="271.30" r="1.60" fill="#4b1c6b"/>
<circle cx="130.00" cy="272.90" r="1.60" fill="#4b1c6b"/>
<circle cx="144.20" cy="273.30" r="1.60" fill="#4b1c6b"/>
<circle cx="133.50" cy="274.10" r="1.60" fill="#4b1c6b"/>
<circle cx="136.30" cy="273.70" r="1.60" fill="#4b1c6b"/>
<circle cx="138.70" cy="274.50" r="1.60" fill="#4b1c6b"/>
<circle cx="141.40" cy="274.50" r="1.60" fill="#4b1c6b"/>
<circle cx="133.90" cy="276.50" r="1.60" fill="#4b1c6b"/>
<circle cx="136.70" cy="276.90" r="1.60" fill="#4b1c6b"/>
<circle cx="139.50" cy="276.50" r="1.60" fill="#4b1c6b"/>
<circle cx="133.10" cy="279.20" r="1.60" fill="#4b1c6b"/>
<circle cx="135.50" cy="279.60" r="1.60" fill="#4b1c6b"/>
<circle cx="137.90" cy="279.20" r="1.60" fill="#4b1c6b"/>
<circle cx="140.20" cy="278.80" r="1.60" fill="#4b1c6b"/>
<circle cx="134.70" cy="282.00" r="1.60" fill="#4b1c6b"/>
<circle cx="137.10" cy="281.60" r="1.60" fill="#4b1c6b"/>
<circle cx="139.50" cy="281.20" r="1.60" fill="#4b1c6b"/>
<circle cx="137.10" cy="286.00" r="1.60" fill="#4b1c6b"/>
<circle cx="136.90" cy="295.60" r="1.60" fill="#4b1c6b"/>
<line x1="129.10" y1="270.20" x2="131.00" y2="270.20" stroke="#3a3030" stroke-width="0.8" />
<line x1="143.60" y1="270.20" x2="145.00" y2="270.20" stroke="#3a3030" stroke-width="0.8" />
<line x1="104.60" y1="277.50" x2="106.00" y2="277.50" stroke="#3a3030" stroke-width="0.8" />
<line x1="119.60" y1="277.50" x2="120.60" y2="277.50" stroke="#3a3030" stroke-width="0.8" />
<rect x="365.6" y="6.6" width="146.8" height="159.2" rx="1.5" fill="#ffffff" stroke="#555" stroke-width="1.4"/>
<rect x="367.80" y="8.80" width="142.40" height="155.00" fill="#f0f0f0" />
<text x="383.50" y="13.90" font-size="6.0" font-weight="bold" fill="#111" textLength="122.7" lengthAdjust="spacingAndGlyphs" stroke="#111" stroke-width="0.15">Enrichment plot: HALLMARK_MYC_TARGETS_V1</text>
<rect x="395.50" y="17.70" width="112.00" height="105.00" fill="#ffffff" />
<line x1="393.60" y1="65.00" x2="395.50" y2="65.00" stroke="#444" stroke-width="0.8" />
<text x="392.00" y="67.00" font-size="5.8" stroke="#505050" stroke-width="0.05" text-anchor="end" fill="#505050" textLength="10.6" lengthAdjust="spacingAndGlyphs">0.00</text>
<line x1="393.60" y1="58.71" x2="395.50" y2="58.71" stroke="#444" stroke-width="0.8" />
<text x="392.00" y="60.71" font-size="5.8" stroke="#505050" stroke-width="0.05" text-anchor="end" fill="#505050" textLength="10.6" lengthAdjust="spacingAndGlyphs">0.05</text>
<line x1="393.60" y1="52.42" x2="395.50" y2="52.42" stroke="#444" stroke-width="0.8" />
<text x="392.00" y="54.42" font-size="5.8" stroke="#505050" stroke-width="0.05" text-anchor="end" fill="#505050" textLength="10.6" lengthAdjust="spacingAndGlyphs">0.10</text>
<line x1="393.60" y1="46.13" x2="395.50" y2="46.13" stroke="#444" stroke-width="0.8" />
<text x="392.00" y="48.13" font-size="5.8" stroke="#505050" stroke-width="0.05" text-anchor="end" fill="#505050" textLength="10.6" lengthAdjust="spacingAndGlyphs">0.15</text>
<line x1="393.60" y1="39.84" x2="395.50" y2="39.84" stroke="#444" stroke-width="0.8" />
<text x="392.00" y="41.84" font-size="5.8" stroke="#505050" stroke-width="0.05" text-anchor="end" fill="#505050" textLength="10.6" lengthAdjust="spacingAndGlyphs">0.20</text>
<line x1="393.60" y1="33.55" x2="395.50" y2="33.55" stroke="#444" stroke-width="0.8" />
<text x="392.00" y="35.55" font-size="5.8" stroke="#505050" stroke-width="0.05" text-anchor="end" fill="#505050" textLength="10.6" lengthAdjust="spacingAndGlyphs">0.25</text>
<line x1="393.60" y1="27.26" x2="395.50" y2="27.26" stroke="#444" stroke-width="0.8" />
<text x="392.00" y="29.26" font-size="5.8" stroke="#505050" stroke-width="0.05" text-anchor="end" fill="#505050" textLength="10.6" lengthAdjust="spacingAndGlyphs">0.30</text>
<line x1="393.60" y1="20.97" x2="395.50" y2="20.97" stroke="#444" stroke-width="0.8" />
<text x="392.00" y="22.97" font-size="5.8" stroke="#505050" stroke-width="0.05" text-anchor="end" fill="#505050" textLength="10.6" lengthAdjust="spacingAndGlyphs">0.35</text>
<text x="377.20" y="42.30" font-size="6.0" stroke="#505050" stroke-width="0.08" text-anchor="middle" fill="#505050" transform="rotate(-90 377.20 42.30)" textLength="47.5" lengthAdjust="spacingAndGlyphs">Enrichment score (ES)</text>
<line x1="395.50" y1="65.20" x2="507.50" y2="65.20" stroke="#9a9a9a" stroke-width="1.3" />
<line x1="395.30" y1="17.50" x2="395.30" y2="65.50" stroke="#8c8c8c" stroke-width="1.4" />
<polyline fill="none" stroke="#22f000" stroke-width="1.55" stroke-linejoin="round" stroke-linecap="round" points="395.5,65.0 395.9,61.2 397.0,55.4 397.8,46.7 399.3,45.6 400.5,41.5 402.2,38.1 403.4,33.5 404.5,28.8 405.7,25.4 408.0,24.2 411.5,23.3 413.8,24.5 416.0,24.0 417.2,22.5 419.0,20.5 420.7,20.8 421.8,19.6 424.2,20.2 427.6,22.5 431.0,23.1 432.8,23.3 436.8,26.5 444.9,35.8 450.0,41.0 454.6,45.2 459.2,49.0 463.3,53.7 465.6,54.2 470.8,59.4 472.5,60.6 476.0,64.0 478.3,64.6 480.0,62.5 481.7,63.5 484.6,62.3 488.0,64.6 490.4,62.3 493.3,60.2 496.2,62.0 498.5,63.2 500.8,64.6 502.5,64.8"/>
<rect x="395.80" y="66.00" width="111.50" height="2.30" fill="#ffffff" />
<rect x="395.80" y="68.30" width="106.40" height="16.30" fill="#a8a8a8" />
<g filter="url(#bh)">
<rect x="396.20" y="68.30" width="1.50" height="16.30" fill="#333" />
<rect x="398.00" y="68.30" width="5.50" height="16.30" fill="#a8a8a8" />
<rect x="400.50" y="68.30" width="0.80" height="16.30" fill="#555" />
<rect x="404.00" y="68.30" width="1.00" height="16.30" fill="#333" />
<rect x="405.00" y="68.30" width="6.00" height="16.30" fill="#c0c0c0" />
<rect x="407.50" y="68.30" width="0.80" height="16.30" fill="#666" />
<rect x="411.20" y="68.30" width="0.80" height="16.30" fill="#333" />
<rect x="412.00" y="68.30" width="4.70" height="16.30" fill="#7a7a7a" />
<rect x="417.00" y="68.30" width="1.80" height="16.30" fill="#1a1a1a" />
<rect x="418.80" y="68.30" width="2.20" height="16.30" fill="#b8b8b8" />
<rect x="421.40" y="68.30" width="0.60" height="16.30" fill="#333" />
<rect x="422.00" y="68.30" width="2.70" height="16.30" fill="#808080" />
<rect x="425.00" y="68.30" width="1.00" height="16.30" fill="#e0e0e0" />
<rect x="426.00" y="68.30" width="4.00" height="16.30" fill="#6a6a6a" />
<rect x="428.00" y="68.30" width="0.70" height="16.30" fill="#333" />
<rect x="430.00" y="68.30" width="1.00" height="16.30" fill="#555" />
<rect x="431.50" y="68.30" width="2.50" height="16.30" fill="#d0d0d0" />
<rect x="434.20" y="68.30" width="0.80" height="16.30" fill="#666" />
<rect x="435.00" y="68.30" width="2.00" height="16.30" fill="#eaeaea" />
<rect x="437.00" y="68.30" width="1.50" height="16.30" fill="#888" />
<rect x="438.50" y="68.30" width="2.30" height="16.30" fill="#f2f2f2" />
<rect x="440.80" y="68.30" width="1.50" height="16.30" fill="#444" />
<rect x="442.30" y="68.30" width="3.70" height="16.30" fill="#d8d8d8" />
<rect x="446.00" y="68.30" width="1.70" height="16.30" fill="#888" />
<rect x="447.70" y="68.30" width="4.30" height="16.30" fill="#f4f4f4" />
<rect x="452.00" y="68.30" width="1.00" height="16.30" fill="#222" />
<rect x="453.00" y="68.30" width="5.50" height="16.30" fill="#c4c4c4" />
<rect x="458.50" y="68.30" width="2.30" height="16.30" fill="#f4f4f4" />
<rect x="460.80" y="68.30" width="1.90" height="16.30" fill="#888" />
<rect x="462.70" y="68.30" width="1.50" height="16.30" fill="#f6f6f6" />
<rect x="464.20" y="68.30" width="1.80" height="16.30" fill="#8a8a8a" />
<rect x="466.00" y="68.30" width="2.50" height="16.30" fill="#f2f2f2" />
<rect x="468.50" y="68.30" width="2.70" height="16.30" fill="#aaaaaa" />
<rect x="471.20" y="68.30" width="1.20" height="16.30" fill="#555" />
<rect x="473.00" y="68.30" width="3.00" height="16.30" fill="#f6f6f6" />
<rect x="476.00" y="68.30" width="2.50" height="16.30" fill="#c8c8c8" />
<rect x="479.00" y="68.30" width="1.00" height="16.30" fill="#333" />
<rect x="480.00" y="68.30" width="3.00" height="16.30" fill="#c0c0c0" />
<rect x="483.00" y="68.30" width="0.70" height="16.30" fill="#444" />
<rect x="483.70" y="68.30" width="4.10" height="16.30" fill="#dadada" />
<rect x="488.20" y="68.30" width="1.20" height="16.30" fill="#444" />
<rect x="489.40" y="68.30" width="2.00" height="16.30" fill="#cccccc" />
<rect x="491.40" y="68.30" width="1.20" height="16.30" fill="#555" />
<rect x="493.00" y="68.30" width="5.00" height="16.30" fill="#f4f4f4" />
<rect x="498.00" y="68.30" width="1.00" height="16.30" fill="#999" />
<rect x="499.00" y="68.30" width="2.00" height="16.30" fill="#dcdcdc" />
<rect x="501.00" y="68.30" width="1.20" height="16.30" fill="#999" />
</g>
<rect x="502.20" y="68.30" width="5.20" height="16.30" fill="#ffffff" />
<rect x="395.80" y="84.80" width="106.40" height="4.20" fill="url(#gsea)" />
<rect x="502.20" y="84.80" width="5.30" height="4.20" fill="#ffffff" />
<line x1="395.50" y1="89.20" x2="507.50" y2="89.20" stroke="#333" stroke-width="0.9" />
<line x1="393.60" y1="92.50" x2="395.50" y2="92.50" stroke="#444" stroke-width="0.8" />
<text x="392.40" y="94.60" font-size="6.0" stroke="#505050" stroke-width="0.06" text-anchor="end" fill="#505050">2</text>
<line x1="393.60" y1="99.25" x2="395.50" y2="99.25" stroke="#444" stroke-width="0.8" />
<text x="392.40" y="101.35" font-size="6.0" stroke="#505050" stroke-width="0.06" text-anchor="end" fill="#505050">1</text>
<line x1="393.60" y1="106.00" x2="395.50" y2="106.00" stroke="#444" stroke-width="0.8" />
<text x="392.40" y="108.10" font-size="6.0" stroke="#505050" stroke-width="0.06" text-anchor="end" fill="#505050">0</text>
<line x1="393.60" y1="112.75" x2="395.50" y2="112.75" stroke="#444" stroke-width="0.8" />
<text x="392.40" y="114.85" font-size="6.0" stroke="#505050" stroke-width="0.06" text-anchor="end" fill="#505050">−1</text>
<line x1="393.60" y1="119.50" x2="395.50" y2="119.50" stroke="#444" stroke-width="0.8" />
<text x="392.40" y="121.60" font-size="6.0" stroke="#505050" stroke-width="0.06" text-anchor="end" fill="#505050">−2</text>
<polygon fill="#e68a9a" points="395.8,106 395.8,99.5 397.0,100.5 399.0,101.5 402.0,102.3 406.0,103.0 412.0,103.6 420.0,104.2 430.0,104.8 440.0,105.4 447.5,106.0 455.0,106.6 465.0,107.2 475.0,107.8 485.0,108.4 493.0,109.0 498.0,109.8 500.5,111.0 501.5,113.0 502.0,117.0 502.2,121.0 502.2,106"/>
<polyline fill="none" stroke="#dd6a80" stroke-width="0.6" points="395.8,99.5 397.0,100.5 399.0,101.5 402.0,102.3 406.0,103.0 412.0,103.6 420.0,104.2 430.0,104.8 440.0,105.4 447.5,106.0 455.0,106.6 465.0,107.2 475.0,107.8 485.0,108.4 493.0,109.0 498.0,109.8 500.5,111.0 501.5,113.0 502.0,117.0 502.2,121.0"/>
<line x1="447.50" y1="89.50" x2="447.50" y2="122.30" stroke="#8ab4d8" stroke-width="0.7" />
<text x="396.90" y="94.30" font-size="5.8" stroke="#e04c68" stroke-width="0.04" fill="#e04c68" textLength="61" lengthAdjust="spacingAndGlyphs">'Ctl' (positively correlated)</text>
<text x="447.70" y="105.00" font-size="5.8" stroke="#333" stroke-width="0.06" text-anchor="middle" fill="#333" textLength="24.5" lengthAdjust="spacingAndGlyphs">Zero cross</text>
<text x="447.70" y="111.40" font-size="5.8" stroke="#333" stroke-width="0.06" text-anchor="middle" fill="#333" textLength="17.5" lengthAdjust="spacingAndGlyphs">at 8277</text>
<text x="439.00" y="121.00" font-size="5.8" stroke="#4a80b8" stroke-width="0.04" fill="#4a80b8" textLength="62.6" lengthAdjust="spacingAndGlyphs">'Tx' (negatively correlated)</text>
<line x1="395.00" y1="17.70" x2="508.00" y2="17.70" stroke="#555" stroke-width="1.0" />
<line x1="507.50" y1="17.70" x2="507.50" y2="122.90" stroke="#666" stroke-width="1.0" />
<line x1="395.30" y1="17.50" x2="395.30" y2="123.00" stroke="#8c8c8c" stroke-width="1.4" />
<line x1="395.50" y1="67.90" x2="507.50" y2="67.90" stroke="#8a8a8a" stroke-width="1.0" />
<line x1="395.30" y1="122.90" x2="507.70" y2="122.90" stroke="#666" stroke-width="1.1" />
<line x1="395.00" y1="122.90" x2="395.00" y2="124.50" stroke="#444" stroke-width="0.8" />
<text x="397.00" y="127.20" font-size="5.9" stroke="#505050" stroke-width="0.06" text-anchor="end" fill="#505050" transform="rotate(-45 397.00 127.20)" dominant-baseline="central">0</text>
<line x1="411.00" y1="122.90" x2="411.00" y2="124.50" stroke="#444" stroke-width="0.8" />
<text x="413.00" y="127.20" font-size="5.9" stroke="#505050" stroke-width="0.06" text-anchor="end" fill="#505050" transform="rotate(-45 413.00 127.20)" dominant-baseline="central">2,500</text>
<line x1="427.00" y1="122.90" x2="427.00" y2="124.50" stroke="#444" stroke-width="0.8" />
<text x="429.00" y="127.20" font-size="5.9" stroke="#505050" stroke-width="0.06" text-anchor="end" fill="#505050" transform="rotate(-45 429.00 127.20)" dominant-baseline="central">5,000</text>
<line x1="443.00" y1="122.90" x2="443.00" y2="124.50" stroke="#444" stroke-width="0.8" />
<text x="445.00" y="127.20" font-size="5.9" stroke="#505050" stroke-width="0.06" text-anchor="end" fill="#505050" transform="rotate(-45 445.00 127.20)" dominant-baseline="central">7,500</text>
<line x1="459.00" y1="122.90" x2="459.00" y2="124.50" stroke="#444" stroke-width="0.8" />
<text x="461.00" y="127.20" font-size="5.9" stroke="#505050" stroke-width="0.06" text-anchor="end" fill="#505050" transform="rotate(-45 461.00 127.20)" dominant-baseline="central">10,000</text>
<line x1="475.00" y1="122.90" x2="475.00" y2="124.50" stroke="#444" stroke-width="0.8" />
<text x="477.00" y="127.20" font-size="5.9" stroke="#505050" stroke-width="0.06" text-anchor="end" fill="#505050" transform="rotate(-45 477.00 127.20)" dominant-baseline="central">12,500</text>
<line x1="491.00" y1="122.90" x2="491.00" y2="124.50" stroke="#444" stroke-width="0.8" />
<text x="493.00" y="127.20" font-size="5.9" stroke="#505050" stroke-width="0.06" text-anchor="end" fill="#505050" transform="rotate(-45 493.00 127.20)" dominant-baseline="central">15,000</text>
<line x1="507.00" y1="122.90" x2="507.00" y2="124.50" stroke="#444" stroke-width="0.8" />
<text x="509.00" y="127.20" font-size="5.9" stroke="#505050" stroke-width="0.06" text-anchor="end" fill="#505050" transform="rotate(-45 509.00 127.20)" dominant-baseline="central">17,500</text>
<text x="374.30" y="109.00" font-size="6.0" stroke="#505050" stroke-width="0.1" text-anchor="middle" fill="#505050" transform="rotate(-90 374.30 109.00)" textLength="40" lengthAdjust="spacingAndGlyphs">Ranked list metric</text>
<text x="381.70" y="109.00" font-size="6.0" stroke="#505050" stroke-width="0.1" text-anchor="middle" fill="#505050" transform="rotate(-90 381.70 109.00)" textLength="34" lengthAdjust="spacingAndGlyphs">(Signal2Noise)</text>
<rect x="406.5" y="143" width="90" height="19.6" fill="#ffffff" stroke="#555" stroke-width="0.9"/>
<line x1="410.00" y1="148.70" x2="418.60" y2="148.70" stroke="#44bb44" stroke-width="1.3" />
<text x="420.30" y="150.90" font-size="6.4" stroke="#333" stroke-width="0.06" fill="#333" textLength="43.3" lengthAdjust="spacingAndGlyphs">Enrichment profile</text>
<line x1="472.90" y1="148.70" x2="482.00" y2="148.70" stroke="#e07a8a" stroke-width="1.3" />
<text x="483.60" y="150.90" font-size="6.4" stroke="#333" stroke-width="0.06" fill="#333" textLength="9.0" lengthAdjust="spacingAndGlyphs">Hits</text>
<line x1="410.00" y1="157.00" x2="413.30" y2="157.00" stroke="#2a5fa0" stroke-width="1.3" />
<line x1="415.30" y1="157.70" x2="418.60" y2="157.70" stroke="#2a5fa0" stroke-width="1.3" />
<text x="420.30" y="159.70" font-size="6.4" stroke="#333" stroke-width="0.06" fill="#333" textLength="51.3" lengthAdjust="spacingAndGlyphs">Ranking metric scores</text>
<text x="405.70" y="176.50" font-size="8.2" stroke="#222" stroke-width="0.1" fill="#222" textLength="68" lengthAdjust="spacingAndGlyphs">FDR q-value: 0.011</text>
<text x="64.80" y="447.50" font-size="8.8" stroke="#262626" stroke-width="0.22" text-anchor="end" fill="#262626" textLength="22.6" lengthAdjust="spacingAndGlyphs">α-Myc</text>
<text x="64.80" y="470.70" font-size="8.8" stroke="#262626" stroke-width="0.22" text-anchor="end" fill="#262626" textLength="26.3" lengthAdjust="spacingAndGlyphs">α-Actin</text>
<text x="73.50" y="431.20" font-size="8.4" stroke="#222" stroke-width="0.22" fill="#222" transform="rotate(10 73.50 431.20)" textLength="9.45" lengthAdjust="spacingAndGlyphs" font-style="italic">Ctl</text>
<text x="96.40" y="421.30" font-size="8.4" stroke="#222" stroke-width="0.22" fill="#222" transform="rotate(30 96.40 421.30)" textLength="23.55" lengthAdjust="spacingAndGlyphs" font-style="italic">STAT3i</text>
<rect x="68.70" y="436.90" width="66.00" height="15.30" fill="#fdfdfd" />
<g filter="url(#b2)"><ellipse cx="116" cy="446.5" rx="13" ry="2.6" fill="#e6e6e6"/></g>
<g filter="url(#b1)"><path d="M69 442.5 C78 441 90 441.2 94.5 442.3 C97.5 443.2 97.5 447.5 94.5 448.3 C88 449.3 78 449.5 69 448.6 Z" fill="#000"/></g>
<rect x="68.70" y="436.90" width="66.00" height="15.30" fill="none" stroke="#111" stroke-width="1.4" />
<rect x="68.70" y="460.90" width="66.00" height="13.80" fill="#f6f6f6" />
<g filter="url(#b05)"><rect x="69" y="466" width="65" height="2.5" fill="#ddd"/></g>
<g filter="url(#b1)"><path d="M71.5 464.2 C80 463.6 90 463.8 97 464.4 L97.4 469.8 C90 470.4 80 470.6 72 470.4 Z" fill="#000"/><path d="M106 465.6 C114 464.6 124 464.2 130.4 464.4 L130.6 470 C122 470.4 112 470.6 106.5 469.8 Z" fill="#000"/></g>
<rect x="68.70" y="460.90" width="66.00" height="13.80" fill="none" stroke="#111" stroke-width="1.4" />
<text x="243.00" y="446.20" font-size="8.8" stroke="#262626" stroke-width="0.22" text-anchor="end" fill="#262626" textLength="22.6" lengthAdjust="spacingAndGlyphs">α-Myc</text>
<text x="243.00" y="472.20" font-size="8.8" stroke="#262626" stroke-width="0.22" text-anchor="end" fill="#262626" textLength="26" lengthAdjust="spacingAndGlyphs">α-Actin</text>
<text x="244.30" y="418.30" font-size="8.0" stroke="#222" stroke-width="0.22" fill="#222" transform="rotate(38 244.30 418.30)" textLength="19.72" lengthAdjust="spacingAndGlyphs" font-style="italic">siSCR</text>
<text x="277.20" y="419.60" font-size="8.4" stroke="#222" stroke-width="0.22" fill="#222" transform="rotate(38 277.20 419.60)" textLength="19.32" lengthAdjust="spacingAndGlyphs" font-style="italic">siMyc</text>
<rect x="246.50" y="434.00" width="58.50" height="20.00" fill="url(#hbg)" />
<g filter="url(#b2)"><ellipse cx="256" cy="444" rx="9" ry="8" fill="#c8c8c8"/></g>
<g filter="url(#b1)"><path d="M249.3 441 L256 438.6 L266 435.6 L271.5 434.6 L272.6 436 L272.3 443.5 L268 445.2 L252 445.8 L249.3 443.8 Z" fill="#000"/></g><g filter="url(#b2)"><ellipse cx="288" cy="439.5" rx="12" ry="3.5" fill="#bcbcbc"/><ellipse cx="296" cy="437.8" rx="3.5" ry="2" fill="#8c8c8c"/></g>
<rect x="246.50" y="434.00" width="58.50" height="20.00" fill="none" stroke="#111" stroke-width="1.4" />
<rect x="246.50" y="459.30" width="58.50" height="21.00" fill="url(#hbg2)" />
<g filter="url(#b1)"><path d="M248.5 465.5 L262 465 L274.5 463.2 L276.8 465 L276.5 471 L274 476 L249 476.4 L248.5 471 Z" fill="#000"/><path d="M280.5 468 C284 466 294 465.6 299.5 467 C301.5 469 301 472.5 298 473.6 C292 474.4 284 474.2 281 472.5 Z" fill="#000"/></g>
<rect x="246.50" y="459.30" width="58.50" height="21.00" fill="none" stroke="#111" stroke-width="1.4" />
<rect x="0.5" y="0.5" width="519" height="530" fill="none" stroke="#000" stroke-width="1.2"/>
</svg>
</body></html>
